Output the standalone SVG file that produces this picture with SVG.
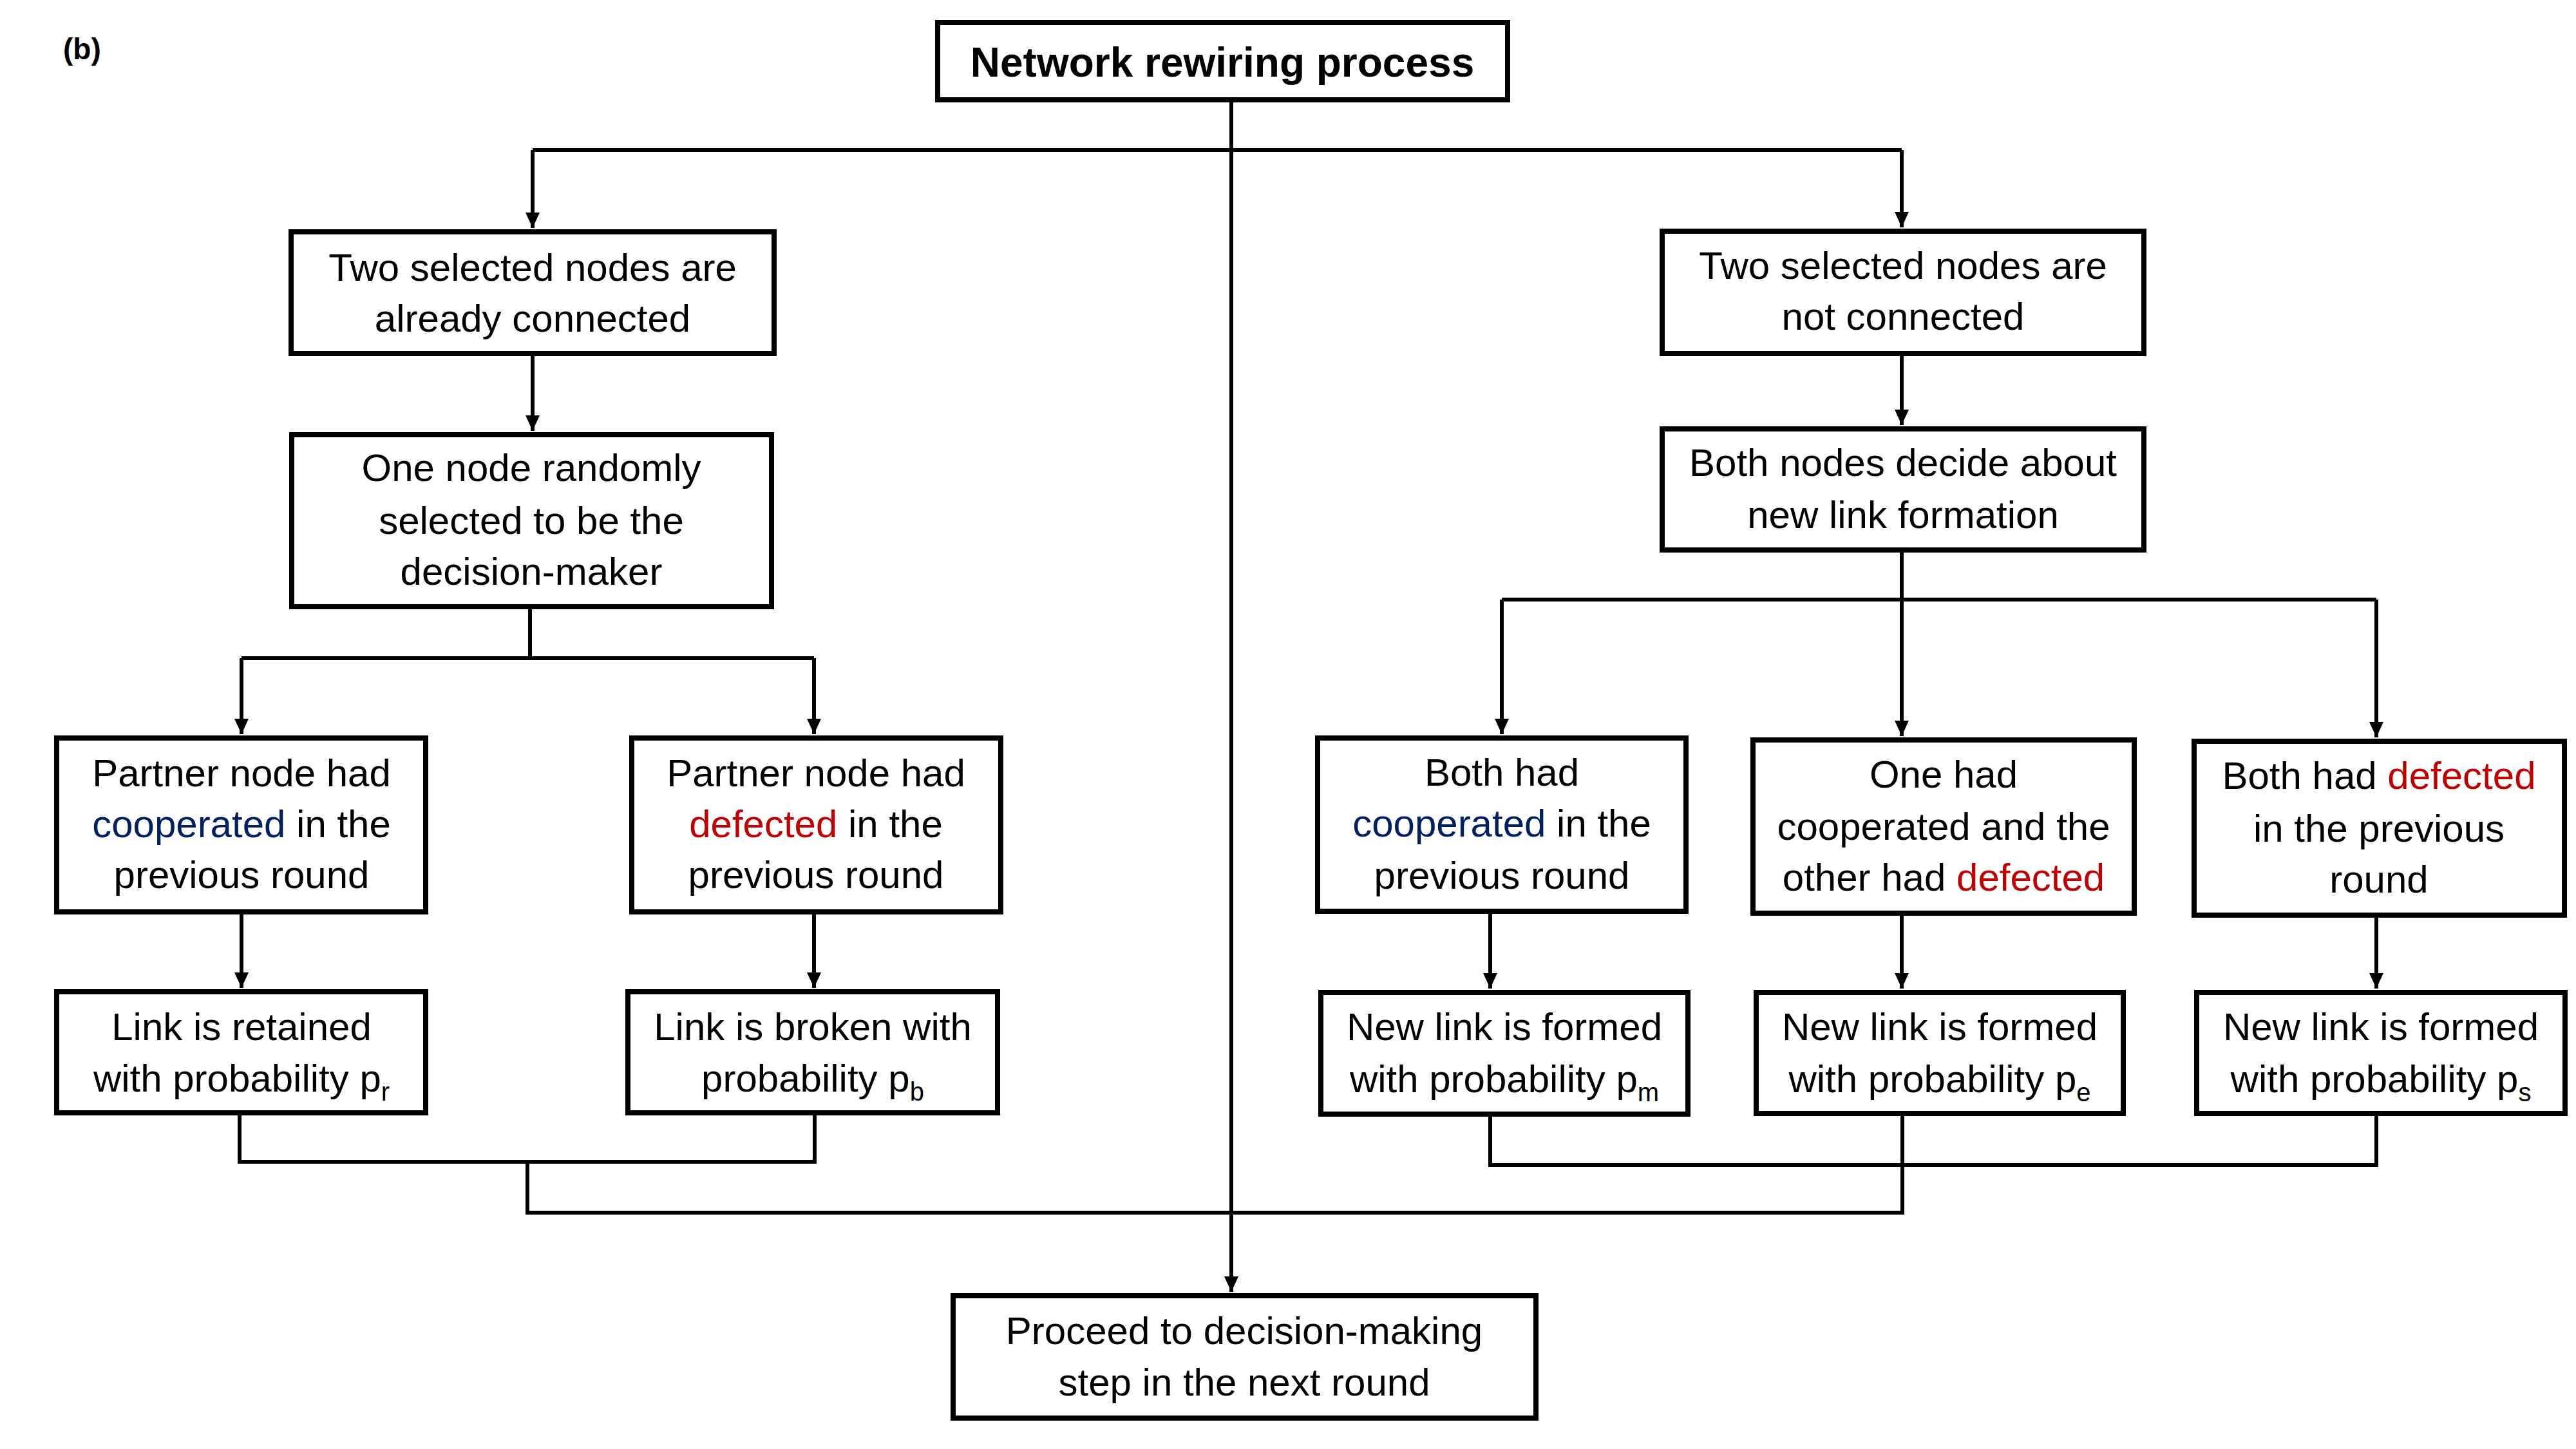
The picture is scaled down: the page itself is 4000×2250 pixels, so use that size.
<svg xmlns="http://www.w3.org/2000/svg" width="4000" height="2250" viewBox="0 0 4000 2250">
<style>
.box{fill:#fff;stroke:#000;stroke-width:8}
.t{font-family:"Liberation Sans",Arial,sans-serif;font-size:60px;fill:#000;text-anchor:middle}
.b{font-weight:bold}
.c{fill:#002060}
.d{fill:#C00000}
.sub{font-size:40px}
.ln{fill:none;stroke:#000;stroke-width:6}
</style>
<defs>
<marker id="ah" markerUnits="userSpaceOnUse" markerWidth="26" markerHeight="24" refX="24" refY="11" orient="auto">
<path d="M0,0 L24,11 L0,22 Z" fill="#000"/>
</marker>
</defs>
<rect width="4000" height="2250" fill="#fff"/>
<text x="98" y="92" class="t b" style="text-anchor:start;font-size:46px">(b)</text>

<g id="connectors">
<path class="ln" d="M1912,159 L1912,2006" marker-end="url(#ah)"/>
<path class="ln" d="M827,233 L2953,233"/>
<path class="ln" d="M827,233 L827,354" marker-end="url(#ah)"/>
<path class="ln" d="M2953,233 L2953,353" marker-end="url(#ah)"/>
<path class="ln" d="M827,553 L827,669" marker-end="url(#ah)"/>
<path class="ln" d="M2953,553 L2953,660" marker-end="url(#ah)"/>
<path class="ln" d="M823,946 L823,1022"/>
<path class="ln" d="M375,1022 L1264,1022"/>
<path class="ln" d="M375,1022 L375,1140" marker-end="url(#ah)"/>
<path class="ln" d="M1264,1022 L1264,1140" marker-end="url(#ah)"/>
<path class="ln" d="M2953,858 L2953,1143" marker-end="url(#ah)"/>
<path class="ln" d="M2332,931 L3690,931"/>
<path class="ln" d="M2332,931 L2332,1140" marker-end="url(#ah)"/>
<path class="ln" d="M3690,931 L3690,1145" marker-end="url(#ah)"/>
<path class="ln" d="M375,1420 L375,1534" marker-end="url(#ah)"/>
<path class="ln" d="M1264,1420 L1264,1534" marker-end="url(#ah)"/>
<path class="ln" d="M2314,1419 L2314,1535" marker-end="url(#ah)"/>
<path class="ln" d="M2953,1422 L2953,1535" marker-end="url(#ah)"/>
<path class="ln" d="M3690,1425 L3690,1535" marker-end="url(#ah)"/>
<path class="ln" d="M372,1732 L372,1804 L1265,1804 L1265,1732"/>
<path class="ln" d="M819,1804 L819,1883 L2954,1883 L2954,1733"/>
<path class="ln" d="M2314,1734 L2314,1809 L3690,1809 L3690,1733"/>
</g>

<g id="n_top">
<rect class="box" x="1456" y="35" width="885" height="120"/>
<text class="t b" x="1898" y="119" style="font-size:64px">Network rewiring process</text>
</g>
<g id="n_connected">
<rect class="box" x="452" y="360" width="750" height="189"/>
<text class="t" x="827" y="436">Two selected nodes are</text>
<text class="t" x="827" y="515">already connected</text>
</g>
<g id="n_notconnected">
<rect class="box" x="2581" y="359" width="748" height="190"/>
<text class="t" x="2955" y="433">Two selected nodes are</text>
<text class="t" x="2955" y="512">not connected</text>
</g>
<g id="n_bothdecide">
<rect class="box" x="2581" y="666" width="748" height="188"/>
<text class="t" x="2955" y="739">Both nodes decide about</text>
<text class="t" x="2955" y="820">new link formation</text>
</g>
<g id="n_onenode">
<rect class="box" x="453" y="675" width="745" height="267"/>
<text class="t" x="825" y="747">One node randomly</text>
<text class="t" x="825" y="829">selected to be the</text>
<text class="t" x="825" y="908">decision-maker</text>
</g>
<g id="n_partnercoop">
<rect class="box" x="88" y="1146" width="573" height="270"/>
<text class="t" x="375" y="1221">Partner node had</text>
<text class="t" x="375" y="1300"><tspan class="c">cooperated</tspan> in the</text>
<text class="t" x="375" y="1379">previous round</text>
</g>
<g id="n_partnerdef">
<rect class="box" x="981" y="1146" width="573" height="270"/>
<text class="t" x="1267" y="1221">Partner node had</text>
<text class="t" x="1267" y="1300"><tspan class="d">defected</tspan> in the</text>
<text class="t" x="1267" y="1379">previous round</text>
</g>
<g id="n_retained">
<rect class="box" x="88" y="1540" width="573" height="188"/>
<text class="t" x="375" y="1615">Link is retained</text>
<text class="t" x="375" y="1695">with probability p<tspan class="sub" dy="14">r</tspan></text>
</g>
<g id="n_broken">
<rect class="box" x="975" y="1540" width="574" height="188"/>
<text class="t" x="1262" y="1615">Link is broken with</text>
<text class="t" x="1262" y="1695">probability p<tspan class="sub" dy="14">b</tspan></text>
</g>
<g id="n_bothcoop">
<rect class="box" x="2046" y="1146" width="572" height="269"/>
<text class="t" x="2332" y="1220">Both had</text>
<text class="t" x="2332" y="1299"><tspan class="c">cooperated</tspan> in the</text>
<text class="t" x="2332" y="1380">previous round</text>
</g>
<g id="n_mixed">
<rect class="box" x="2722" y="1149" width="592" height="269"/>
<text class="t" x="3018" y="1223">One had</text>
<text class="t" x="3018" y="1304">cooperated and the</text>
<text class="t" x="3018" y="1383">other had <tspan class="d">defected</tspan></text>
</g>
<g id="n_bothdef">
<rect class="box" x="3407" y="1151" width="575" height="270"/>
<text class="t" x="3694" y="1225">Both had <tspan class="d">defected</tspan></text>
<text class="t" x="3694" y="1307">in the previous</text>
<text class="t" x="3694" y="1386">round</text>
</g>
<g id="n_pm">
<rect class="box" x="2051" y="1541" width="570" height="189"/>
<text class="t" x="2336" y="1615">New link is formed</text>
<text class="t" x="2336" y="1696">with probability p<tspan class="sub" dy="14">m</tspan></text>
</g>
<g id="n_pe">
<rect class="box" x="2727" y="1541" width="570" height="188"/>
<text class="t" x="3012" y="1615">New link is formed</text>
<text class="t" x="3012" y="1696">with probability p<tspan class="sub" dy="14">e</tspan></text>
</g>
<g id="n_ps">
<rect class="box" x="3411" y="1541" width="572" height="188"/>
<text class="t" x="3697" y="1615">New link is formed</text>
<text class="t" x="3697" y="1696">with probability p<tspan class="sub" dy="14">s</tspan></text>
</g>
<g id="n_proceed">
<rect class="box" x="1480" y="2012" width="905" height="190"/>
<text class="t" x="1932" y="2087">Proceed to decision-making</text>
<text class="t" x="1932" y="2167">step in the next round</text>
</g>
</svg>
